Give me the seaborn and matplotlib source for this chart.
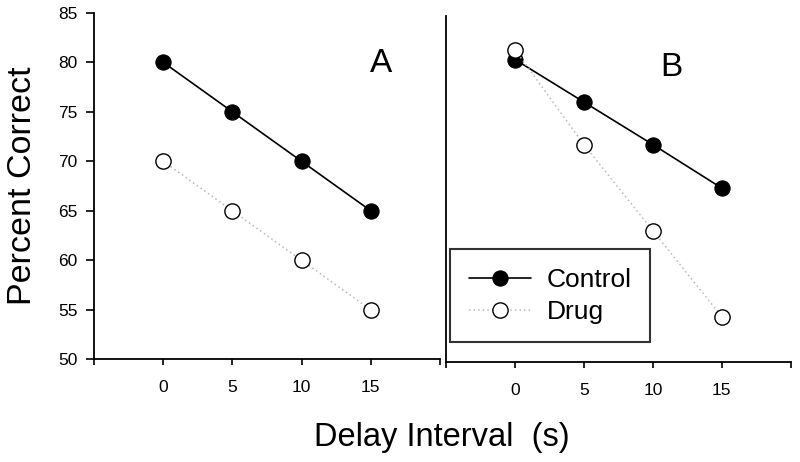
import numpy as np
import pandas as pd
import matplotlib
matplotlib.use("Agg")
import matplotlib.pyplot as plt
import seaborn as sns

# ====== data ======
delay = [0, 5, 10, 15]
control_a = [80, 75, 70, 65]
drug_a = [70, 65, 60, 55]
control_b = [80.6, 76.3, 72.0, 67.6]
drug_b = [81.6, 72.0, 63.3, 54.6]
x_ticks = [-5, 0, 5, 10, 15, 20]
x_ticklabels = ["", "0", "5", "10", "15", ""]
y_ticks = [50, 55, 60, 65, 70, 75, 80, 85]
# =========================================

sns.set_style("ticks")
plt.rcParams['font.family'] = ['Liberation Sans', 'DejaVu Sans']
plt.rcParams['text.color'] = 'black'
plt.rcParams['axes.labelcolor'] = 'black'
plt.rcParams['xtick.color'] = 'black'
plt.rcParams['ytick.color'] = 'black'

fig = plt.figure(figsize=(8, 4.62), dpi=100)
ax_a = fig.add_axes([0.1175, 0.2223, 0.4325, 0.750])
ax_b = fig.add_axes([0.5575, 0.2158, 0.431, 0.7496])

ctrl_kw = dict(color="black", linewidth=1.2, marker="o", markersize=11,
               markerfacecolor="black", markeredgecolor="black")
drug_kw = dict(color="#b8b8b8", linewidth=1.1, linestyle=(0, (1, 2)), marker="o",
               markersize=11, markerfacecolor="white", markeredgecolor="black",
               markeredgewidth=1.0)

def draw_panel(ax, ctrl, drug, letter, pos):
    sns.lineplot(x=delay, y=ctrl, ax=ax, label="Control", **ctrl_kw)
    sns.lineplot(x=delay, y=drug, ax=ax, label="Drug", **drug_kw)
    ax.set_xlim(-5, 20)
    ax.set_ylim(50, 85)
    ax.set_xticks(x_ticks)
    ax.set_xticklabels(x_ticklabels)
    ax.tick_params(axis="x", direction="out", length=4, width=1.2, pad=11, labelsize=12.5)
    for side in ["top", "right"]:
        ax.spines[side].set_visible(False)
    for side in ["left", "bottom"]:
        ax.spines[side].set_linewidth(1.3)
        ax.spines[side].set_color("black")
    ax.set_xlabel("")
    ax.set_ylabel("")
    ax.text(pos[0], pos[1], letter, transform=ax.transAxes, fontsize=24,
            ha="center", va="center")

draw_panel(ax_a, control_a, drug_a, "A", (0.83, 0.855))
draw_panel(ax_b, control_b, drug_b, "B", (0.654, 0.85))

ax_a.set_yticks(y_ticks)
ax_a.tick_params(axis="y", direction="out", length=6, width=1.2, pad=6, labelsize=12.5)
ax_a.set_ylabel("Percent Correct", fontsize=24.5, labelpad=14)
ax_a.get_legend().remove()

ax_b.set_yticks([])
leg = ax_b.legend(loc="lower left", bbox_to_anchor=(0.013, 0.058), fontsize=19,
                  frameon=True, fancybox=False, edgecolor="black", handlelength=2.35,
                  borderpad=0.7, labelspacing=0.3, handletextpad=0.6, borderaxespad=0)
leg.get_frame().set_linewidth(1.5)

fig.text(0.552, 0.054, "Delay Interval  (s)", fontsize=23.5, ha="center", va="center")

fig.savefig("out.png", dpi=100)
